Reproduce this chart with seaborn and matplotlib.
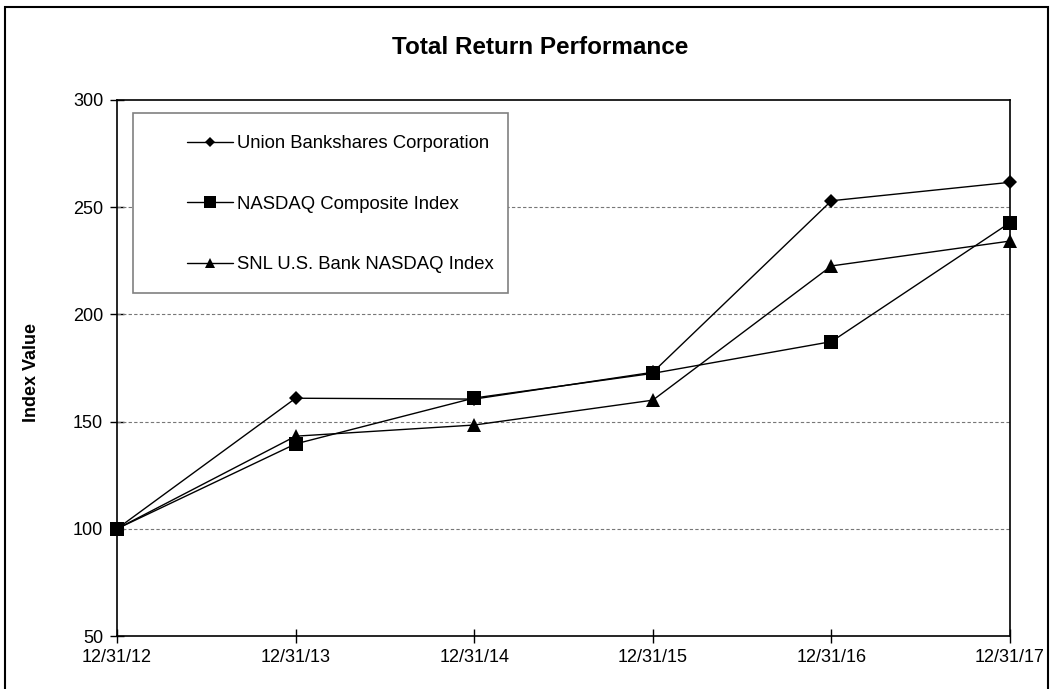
import matplotlib
matplotlib.use("Agg")
import matplotlib.pyplot as plt
import matplotlib.patches as mpatches
import seaborn as sns
import pandas as pd

dates = ["12/31/12", "12/31/13", "12/31/14", "12/31/15", "12/31/16", "12/31/17"]
series_names = ["Union Bankshares Corporation", "NASDAQ Composite Index", "SNL U.S. Bank NASDAQ Index"]
union = [100, 160.9, 160.5, 173.0, 253.0, 261.6]
nasdaq = [100, 139.6, 161.0, 172.5, 187.3, 242.8]
snl_bank = [100, 143.2, 148.4, 160.0, 222.6, 234.2]

df = pd.DataFrame({
    "Date": dates * 3,
    "Series": [s for s in series_names for _ in dates],
    "Value": union + nasdaq + snl_bank,
})
df["pos"] = df["Date"].map({d: i for i, d in enumerate(dates)})

sns.set_style("white")
plt.rcParams["font.family"] = ["Liberation Sans", "DejaVu Sans"]
plt.rcParams["text.color"] = "black"
plt.rcParams["axes.labelcolor"] = "black"

fig = plt.figure(figsize=(10.53, 6.89), dpi=100)
ax = fig.add_axes([0.1111, 0.0769, 0.8481, 0.778])

markers = {series_names[0]: "D", series_names[1]: "s", series_names[2]: "^"}
msizes = {"D": 7, "s": 10, "^": 9.5}

sns.lineplot(
    data=df, x="pos", y="Value", hue="Series", style="Series",
    palette=["black"] * 3, markers=markers, dashes=False,
    linewidth=1.0, ax=ax, legend=True, zorder=5,
)
for line in ax.lines:
    line.set_markersize(msizes.get(line.get_marker(), 8))
    line.set_markeredgewidth(0)
    line.set_clip_on(False)

ax.set_xlim(0, len(dates) - 1)
ax.set_ylim(50, 300)
ax.set_xticks(range(len(dates)))
ax.set_xticklabels(dates)
ax.set_yticks([50, 100, 150, 200, 250, 300])
ax.tick_params(axis="both", which="major", bottom=True, left=True, direction="inout",
               length=10, width=1, color="black", labelcolor="black", labelsize=13)
ax.tick_params(axis="x", pad=4)
ax.tick_params(axis="y", pad=5)

for y in [100, 150, 200, 250]:
    ax.axhline(y, color="#777777", lw=0.8, ls=(0, (3, 2)), zorder=1)
for sp in ax.spines.values():
    sp.set_color("black")
    sp.set_linewidth(1.2)

ax.set_xlabel("")
ax.set_ylabel("")
fig.text(32 / 1053, 1 - 372 / 689, "Index Value", rotation=90, ha="center", va="center",
         fontsize=13, fontweight="bold")
fig.text(540 / 1053, 1 - 47 / 689, "Total Return Performance", ha="center", va="center",
         fontsize=17.5, fontweight="bold")

# legend panel
box = mpatches.Rectangle((133 / 1053, 1 - 293 / 689), 375 / 1053, 180 / 689,
                         transform=fig.transFigure, facecolor="white",
                         edgecolor="#808080", lw=1.2, zorder=3)
fig.patches.append(box)
handles, labels = ax.get_legend_handles_labels()
for h in handles:
    h.set_markersize(msizes.get(h.get_marker(), 8) * 0.8)
    h.set_markeredgewidth(0)
ax.get_legend().remove()
leg = fig.legend(handles, labels, loc="upper left", bbox_to_anchor=(178 / 1053, 1 - 126 / 689),
                 frameon=False, fontsize=13.3, labelspacing=2.35, handlelength=2.5,
                 handletextpad=0.2, borderpad=0)
leg.set_zorder(6)

# outer frame
frame = mpatches.Rectangle((5 / 1053, -0.05), 1043 / 1053, 1 - 7 / 689 + 0.05,
                           transform=fig.transFigure, fill=False, edgecolor="black",
                           lw=1.5, zorder=0)
fig.patches.append(frame)

fig.savefig("out.png", dpi=100)
